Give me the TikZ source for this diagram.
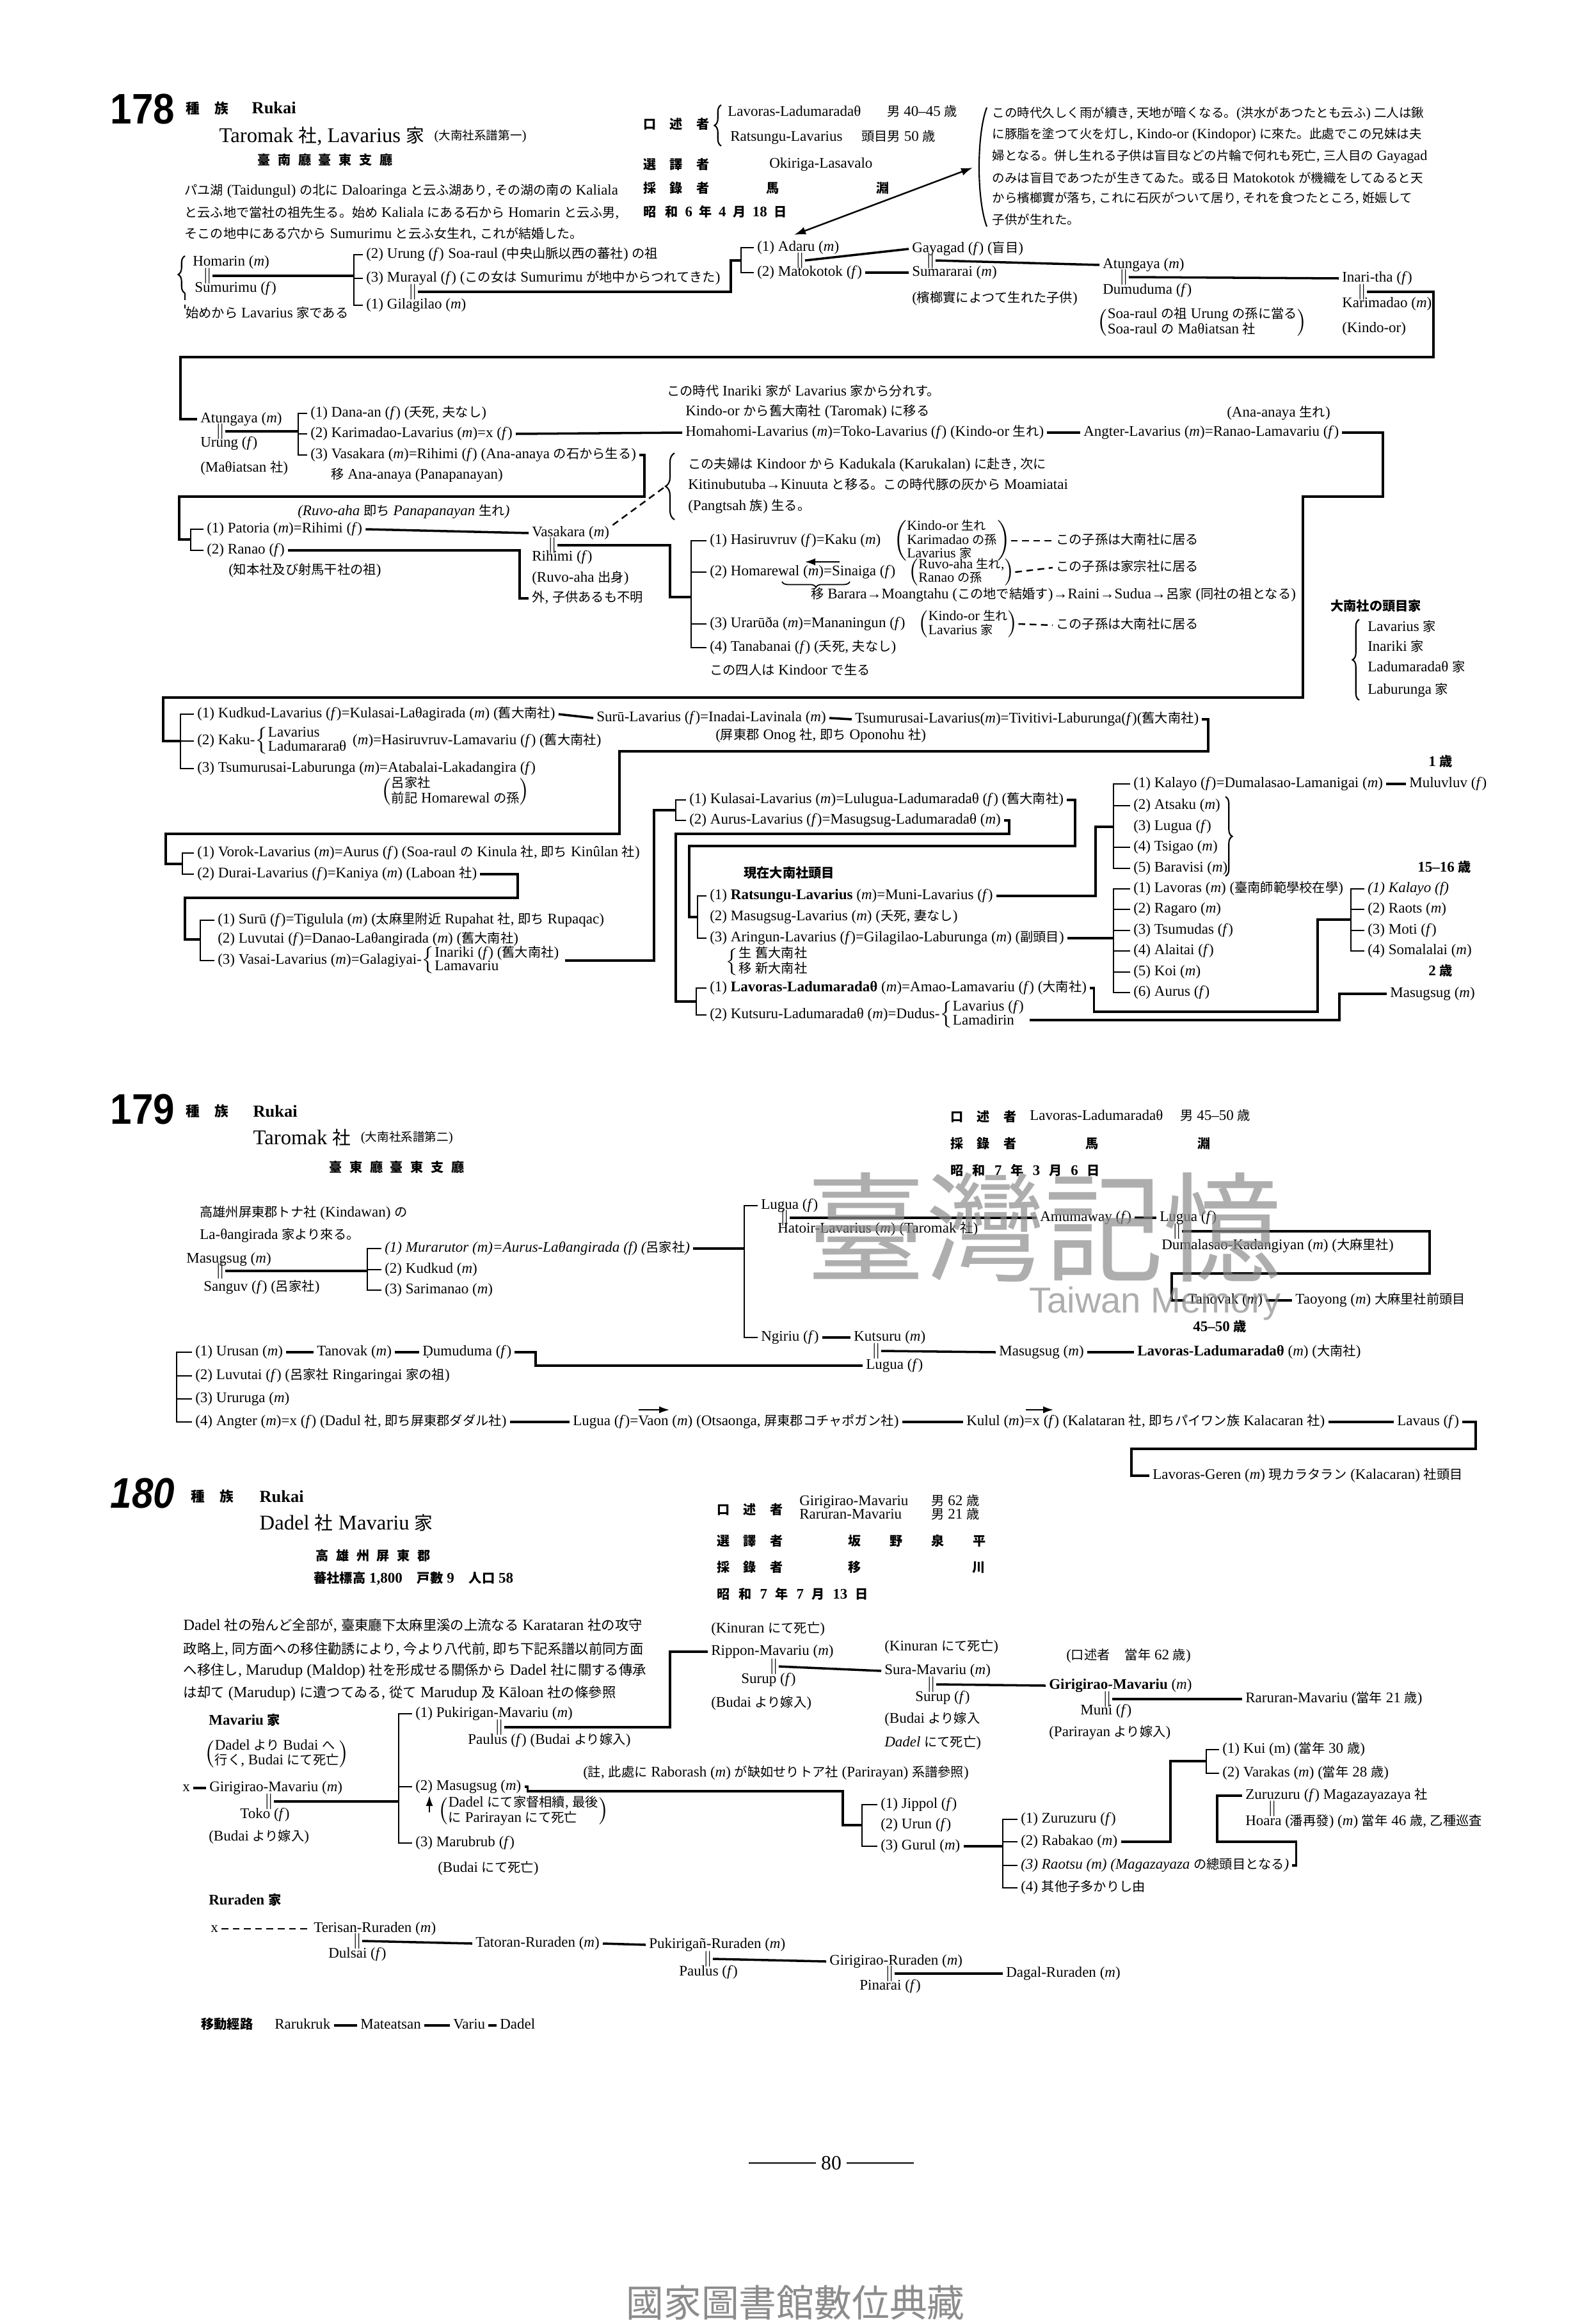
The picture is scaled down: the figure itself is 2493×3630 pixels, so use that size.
\documentclass[tikz,border=0pt]{standalone}
\usepackage{fontspec}
\setmainfont{Liberation Serif}
\setsansfont{Liberation Sans}
\newfontfamily\cjkfont[Scale=0.88]{Noto Sans CJK JP}
\usetikzlibrary{arrows.meta,positioning,decorations.pathreplacing}

% kana and kanji are set in the CJK face
\XeTeXinterchartokenstate=1
\newXeTeXintercharclass\JPclass
\makeatletter
\newcommand\setjprange[2]{\count@=#1\relax
  \loop\XeTeXcharclass\count@=\JPclass
  \ifnum\count@<#2\relax\advance\count@\@ne\repeat}
\makeatother
\setjprange{"3000}{"30FF}
\setjprange{"3400}{"4DBF}
\setjprange{"4E00}{"9FFF}
\setjprange{"F900}{"FAFF}
\setjprange{"FF00}{"FFEF}
\newcommand\jpon{\cjkfont}
\newcommand\jpoff{\rmfamily}
\XeTeXinterchartoks 0 \JPclass = {\jpon}
\XeTeXinterchartoks 4095 \JPclass = {\jpon}
\XeTeXinterchartoks \JPclass 0 = {\jpoff}
\XeTeXinterchartoks \JPclass 4095 = {\jpoff}

\newcommand\treefont{\fontsize{6.55}{8}\selectfont}
\newcommand\parafont{\fontsize{6.5}{8}\selectfont}
\newcommand\mM{(\textit{m})}
\newcommand\fF{(\textit{f})}
\newcommand\stk[1]{\begin{tabular}{@{}l@{}}#1\end{tabular}}
\newcommand\lsp{\hspace{6pt}}
\newcommand\rsp{\hspace{3.3pt}}
\renewcommand\arraystretch{0.72}

\tikzset{
  nm/.style={font=\treefont, anchor=west, inner sep=0pt, outer xsep=1.5pt,
             text height=5pt, text depth=1.7pt},
  nmb/.style={nm, font=\treefont\bfseries},
  blk/.style={font=\treefont, anchor=west, inner sep=0pt},
  blks/.style={blk, font=\fontsize{6.2}{7.6}\selectfont},
  par/.style={font=\parafont, anchor=west, inner sep=0pt},
  parr/.style={font=\fontsize{6.3}{8}\selectfont, anchor=west, inner sep=0pt},
  lab/.style={font=\fontsize{6.5}{8}\selectfont\bfseries, anchor=west, inner sep=0pt},
  num/.style={font=\fontsize{19}{21}\selectfont\sffamily\bfseries, anchor=west,
              inner sep=0pt, xscale=0.9, transform shape},
  zk/.style={font=\fontsize{7}{8}\selectfont\bfseries, anchor=west, inner sep=0pt},
  hdr/.style={font=\fontsize{7.5}{9}\selectfont\bfseries, anchor=west, inner sep=0pt},
  ttl/.style={font=\fontsize{9.3}{11}\selectfont, anchor=west, inner sep=0pt},
  sml/.style={font=\fontsize{6}{7}\selectfont, anchor=west, inner sep=0pt},
  reg/.style={font=\fontsize{6.5}{8}\selectfont\bfseries, anchor=west, inner sep=0pt},
  eqs/.style={font=\treefont, inner sep=0pt},
  ln/.style={line width=1pt},
  brk/.style={line width=0.8pt},
  dsh/.style={line width=0.7pt, densely dashed},
  brc/.style={line width=0.6pt, decorate, decoration={brace, amplitude=3pt}},
  tip/.style={-{Latex[length=1.6mm,width=1.1mm]}, line width=0.5pt},
}

\begin{document}
\begin{tikzpicture}[x=0.01cm, y=-0.01cm]
  \fill[white] (0,0) rectangle (2493,3630);
  \useasboundingbox (0,0) rectangle (2493,3630);

  % ---------------- 178 ----------------
  \node[num] (n178) at (172,171) {178};
  \node[zk] (zk1) at (290,169) {種\hspace{6.5pt}族};
  \node[hdr] (ruk1) at (393,169) {Rukai};
  \node[ttl] (t178) at (342,213) {Taromak 社, Lavarius 家};
  \node[sml, right=4pt of t178] (t178b) {(大南社系譜第一)};
  \node[reg] (r178) at (402,250) {臺\rsp 南\rsp 廳\rsp 臺\rsp 東\rsp 支\rsp 廳};

  \node[par] (p1a) at (288,299) {パユ湖 (Taidungul) の北に Daloaringa と云ふ湖あり, その湖の南の Kaliala};
  \node[par] (p1b) at (288,333) {と云ふ地で當社の祖先生る。始め Kaliala にある石から Homarin と云ふ男,};
  \node[par] (p1c) at (288,366) {そこの地中にある穴から Sumurimu と云ふ女生れ, これが結婚した。};

  \node[lab] (a1) at (1005,194) {口\lsp 述\lsp 者};
  \draw[brc] (1127,228) -- (1127,164);
  \node[nm] (a1a) at (1132,176) {Lavoras-Ladumaradaθ};
  \node[nm] (a1b) at (1381,176) {男 40–45 歳};
  \node[nm] (a1c) at (1136,215) {Ratsungu-Lavarius};
  \node[nm] (a1d) at (1341,215) {頭目男 50 歳};
  \node[lab] (a2) at (1005,257) {選\lsp 譯\lsp 者};
  \node[nm] (a2a) at (1197,257) {Okiriga-Lasavalo};
  \node[lab] (a3) at (1005,294) {採\lsp 錄\lsp 者};
  \node[lab] (a3a) at (1197,294) {馬};
  \node[lab] (a3b) at (1369,294) {淵};
  \node[lab] (a4) at (1005,331) {昭\hspace{4pt}和\hspace{3pt}6\hspace{3pt}年\hspace{3pt}4\hspace{3pt}月\hspace{3pt}18\hspace{3pt}日};

  \draw[line width=0.6pt] (1542,168) .. controls (1526,210) and (1526,312) .. (1542,354);
  \node[parr] (rt1) at (1550,178) {この時代久しく雨が續き, 天地が暗くなる。(洪水があつたとも云ふ) 二人は鍬};
  \node[parr] (rt2) at (1550,211) {に豚脂を塗つて火を灯し, Kindo-or (Kindopor) に來た。此處でこの兄妹は夫};
  \node[parr] (rt3) at (1550,245) {婦となる。併し生れる子供は盲目などの片輪で何れも死亡, 三人目の Gayagad};
  \node[parr] (rt4) at (1550,278) {のみは盲目であつたが生きてゐた。或る日 Matokotok が機織をしてゐると天};
  \node[parr] (rt5) at (1550,310) {から檳榔實が落ち, これに石灰がついて居り, それを食つたところ, 姙娠して};
  \node[parr] (rt6) at (1550,343) {子供が生れた。};
  \coordinate (arA) at (1241,367);
  \coordinate (arB) at (1520,262);
  \draw[{Latex[length=1.8mm,width=1.2mm]}-{Latex[length=1.8mm,width=1.2mm]}, line width=0.7pt] (arA) -- (arB);

  % first generations
  \node[nm] (hom) at (296,410) {Homarin \mM};
  \node[eqs] (e1) at (324,431) {$\|$};
  \node[nm] (sum) at (299,451) {Sumurimu \fF};
  \draw[brc] (289,458) -- (289,400);
  \draw[dsh] (289,458) -- (289,482);
  \node[nm] (haj) at (285,491) {始めから Lavarius 家である};
  \coordinate (sp1) at (553,431);
  \draw[ln] (e1.east) -- (sp1);
  \node[nm] (ur2) at (567,398) {(2) Urung \fF};
  \node[nm] (ur2b) at (695,398) {Soa-raul (中央山脈以西の蕃社) の祖};
  \node[nm] (mur) at (567,435) {(3) Murayal \fF{} (この女は Sumurimu が地中からつれてきた)};
  \node[nm] (gil) at (567,477) {(1) Gilagilao \mM};
  \draw[brk] (ur2.west) -| (sp1) |- (gil.west);
  \draw[brk] (mur.west) -- (mur.west -| sp1);
  \node[eqs] (e2) at (645,456) {$\|$};
  \coordinate (sp2) at (1158,407);
  \node[nm] (ada) at (1178,387) {(1) Adaru \mM};
  \node[nm] (mat) at (1178,426) {(2) Matokotok \fF};
  \draw[ln] (e2.east) -| (1142,407) -- (sp2);
  \draw[brk] (ada.west) -| (sp2) |- (mat.west);
  \node[eqs] (e3) at (1250,407) {$\|$};
  \node[nm] (gay) at (1420,389) {Gayagad \fF{} (盲目)};
  \node[nm] (smr) at (1420,426) {Sumararai \mM};
  \draw[ln] (e3.east) -- (gay.west);
  \draw[ln] (mat.east) -- (smr.west);
  \node[nm] (bin) at (1420,467) {(檳榔實によつて生れた子供)};
  \node[eqs] (e4) at (1454,407) {$\|$};
  \node[nm] (atu1) at (1718,414) {Atungaya \mM};
  \draw[ln] (e4.east) -- (atu1.west);
  \node[eqs] (e5) at (1756,433) {$\|$};
  \node[nm] (dum1) at (1718,454) {Dumuduma \fF};
  \node[blk] (soa) at (1714,504) {$\left(\stk{Soa-raul の祖 Urung の孫に當る\hspace{16pt}\\Soa-raul の Maθiatsan 社}\right)$};
  \node[nm] (ina) at (2092,435) {Inari-tha \fF};
  \draw[ln] (e5.east) -- (ina.west);
  \node[eqs] (e6) at (2128,456) {$\|$};
  \node[nm] (kar1) at (2092,475) {Karimadao \mM};
  \node[nm] (kin1) at (2092,514) {(Kindo-or)};
  \node[nm] (atu2) at (308,655) {Atungaya \mM};
  \draw[ln] (e6.east) -| (2240,558) -| (282,655) -- (atu2.west);

  % Atungaya = Urung
  \node[eqs] (e7) at (344,674) {$\|$};
  \node[nm] (uru2) at (308,693) {Urung \fF};
  \node[nm] (mts) at (308,732) {(Maθiatsan 社)};
  \coordinate (sp3) at (466,674);
  \draw[ln] (e7.east) -- (sp3);
  \node[nm] (d1) at (480,646) {(1) Dana-an \fF{} (夭死, 夫なし)};
  \node[nm] (d2) at (480,678) {(2) Karimadao-Lavarius \mM=x \fF};
  \node[nm] (d3) at (480,711) {(3) Vasakara \mM=Rihimi \fF{} (Ana-anaya の石から生る)};
  \draw[brk] (d1.west) -| (sp3) |- (d3.west);
  \draw[brk] (d2.west) -- (d2.west -| sp3);
  \node[nm] (d3b) at (512,743) {移 Ana-anaya (Panapanayan)};
  \node[nm] (jidai) at (1037,613) {この時代 Inariki 家が Lavarius 家から分れす。};
  \node[nm] (kindo) at (1066,644) {Kindo-or から舊大南社 (Taromak) に移る};
  \node[nm] (hmh) at (1066,676) {Homahomi-Lavarius \mM=Toko-Lavarius \fF{} (Kindo-or 生れ)};
  \draw[ln] (d2.east) -- (hmh.west);
  \node[nm] (ang) at (1688,676) {Angter-Lavarius \mM=Ranao-Lamavariu \fF};
  \node[nm] (anab) at (1912,646) {(Ana-anaya 生れ)};
  \draw[ln] (hmh.east) -- (ang.west);

  \coordinate (sp4) at (298,843);
  \draw[ln] (d3.east) -| (1007,776) -| (280,843) -- (sp4);
  \node[nm] (pat) at (318,827) {(1) Patoria \mM=Rihimi \fF};
  \node[nm] (ran) at (318,860) {(2) Ranao \fF};
  \draw[brk] (pat.west) -| (sp4) |- (ran.west);
  \node[nm] (chi) at (352,892) {(知本社及び射馬干社の祖)};
  \node[nm, font=\treefont\itshape] (ruvo) at (460,800) {(Ruvo-aha 即ち Panapanayan 生れ)};
  \node[nm] (vas) at (826,833) {Vasakara \mM};
  \draw[ln] (pat.east) -- (vas.west);
  \node[eqs] (e8) at (863,852) {$\|$};
  \node[nm] (rih) at (826,871) {Rihimi \fF};
  \node[nm] (ruv2) at (826,904) {(Ruvo-aha 出身)};
  \node[nm] (hoka) at (826,935) {外, 子供あるも不明};
  \draw[ln] (ran.east) -| (812,935) -- (hoka.west);

  \draw[brc, decoration={brace, amplitude=4pt}] (1054,812) -- (1054,708);
  \coordinate (brtip) at (1040,760);
  \node[nm] (fu1) at (1070,727) {この夫婦は Kindoor から Kadukala (Karukalan) に赴き, 次に};
  \node[nm] (fu2) at (1070,759) {Kitinubutuba→Kinuuta と移る。この時代豚の灰から Moamiatai};
  \node[nm] (fu3) at (1070,792) {(Pangtsah 族) 生る。};
  \draw[dsh] (vas.north east) -- (brtip);

  \coordinate (sp5) at (1080,933);
  \draw[ln] (e8.east) -| (1047,933) -- (sp5);
  \node[nm] (h1) at (1104,845) {(1) Hasiruvruv \fF=Kaku \mM};
  \node[nm] (h2) at (1104,894) {(2) Homarewal \mM=Sinaiga \fF};
  \node[nm] (h3) at (1104,975) {(3) Urarūða \mM=Mananingun \fF};
  \node[nm] (h4) at (1104,1012) {(4) Tanabanai \fF{} (夭死, 夫なし)};
  \draw[brk] (h1.west) -| (sp5) |- (h4.west);
  \draw[brk] (h2.west) -- (h2.west -| sp5);
  \draw[brk] (h3.west) -- (h3.west -| sp5);
  \node[blks, right=4pt of h1] (h1p) {$\left(\stk{Kindo-or 生れ\\Karimadao の孫\\Lavarius 家}\right)$};
  \node[nm] (h1n) at (1645,845) {この子孫は大南社に居る};
  \draw[dsh] (h1p.east) -- (h1n.west);
  \node[blks, right=4pt of h2] (h2p) {$\left(\stk{Ruvo-aha 生れ,\\Ranao の孫}\right)$};
  \node[nm] (h2n) at (1645,887) {この子孫は家宗社に居る};
  \draw[dsh] (h2p.east) -- (h2n.west);
  \draw[tip] (1312,878) -- (1258,878);
  \draw[line width=0.5pt, decorate, decoration={brace, mirror, amplitude=2.5pt}] (1222,909) -- (1328,909);
  \node[nm] (h2m) at (1262,930) {移 Barara→Moangtahu (この地で結婚す)→Raini→Sudua→呂家 (同社の祖となる)};
  \node[blks, right=4pt of h3] (h3p) {$\left(\stk{Kindo-or 生れ\\Lavarius 家}\right)$};
  \node[nm] (h3n) at (1645,977) {この子孫は大南社に居る};
  \draw[dsh] (h3p.east) -- (h3n.west);
  \node[nm] (yon) at (1104,1049) {この四人は Kindoor で生る};

  \node[nmb] (tmk) at (2074,949) {大南社の頭目家};
  \draw[brc] (2124,1094) -- (2124,968);
  \node[nm] (tm1) at (2132,981) {Lavarius 家};
  \node[nm] (tm2) at (2132,1012) {Inariki 家};
  \node[nm] (tm3) at (2132,1044) {Ladumaradaθ 家};
  \node[nm] (tm4) at (2132,1079) {Laburunga 家};

  \coordinate (sp6) at (282,1158);
  \draw[ln] (ang.east) -| (2161,776) -| (2036,1090) -| (255,1158) -- (sp6);

  % Kudkud, Kaku, Tsumurusai
  \node[nm] (k1) at (303,1116) {(1) Kudkud-Lavarius \fF=Kulasai-Laθagirada \mM{} (舊大南社)};
  \node[nm] (k2) at (303,1158) {(2) Kaku-$\left\{\stk{Lavarius\\Ladumararaθ}\right.$ \mM=Hasiruvruv-Lamavariu \fF{} (舊大南社)};
  \node[nm] (k3) at (303,1201) {(3) Tsumurusai-Laburunga \mM=Atabalai-Lakadangira \fF};
  \node[blk] (k3p) at (595,1237) {$\left(\stk{呂家社\\前記 Homarewal の孫}\right)$};
  \draw[brk] (k1.west) -| (sp6) |- (k3.west);
  \draw[brk] (k2.west) -- (k2.west -| sp6);
  \node[nm] (sur) at (927,1122) {Surū-Lavarius \fF=Inadai-Lavinala \mM};
  \draw[ln] (k1.east) -- (sur.west);
  \node[nm] (tsu) at (1331,1124) {Tsumurusai-Lavarius\mM=Tivitivi-Laburunga\fF(舊大南社)};
  \draw[ln] (sur.east) -- (tsu.west);
  \node[nm] (onog) at (1113,1150) {(屏東郡 Onog 社, 即ち Oponohu 社)};

  \coordinate (sp7) at (285,1350);
  \draw[ln] (tsu.east) -| (1888,1174) -| (968,1303) -| (259,1350) -- (sp7);
  \node[nm] (v1) at (303,1333) {(1) Vorok-Lavarius \mM=Aurus \fF{} (Soa-raul の Kinula 社, 即ち Kinûlan 社)};
  \node[nm] (v2) at (303,1366) {(2) Durai-Lavarius \fF=Kaniya \mM{} (Laboan 社)};
  \draw[brk] (v1.west) -| (sp7) |- (v2.west);

  \coordinate (sp8) at (313,1468);
  \draw[ln] (v2.east) -| (809,1403) -| (289,1468) -- (sp8);
  \node[nm] (w1) at (335,1438) {(1) Surū \fF=Tigulula \mM{} (太麻里附近 Rupahat 社, 即ち Rupaqac)};
  \node[nm] (w2) at (335,1468) {(2) Luvutai \fF=Danao-Laθangirada \mM{} (舊大南社)};
  \node[nm] (w3) at (335,1501) {(3) Vasai-Lavarius \mM=Galagiyai-$\left\{\stk{Inariki \fF{} (舊大南社)\\Lamavariu}\right.$};
  \draw[brk] (w1.west) -| (sp8) |- (w3.west);

  \coordinate (sp9) at (1056,1266);
  \draw[ln] (w3.east) -| (1022,1266) -- (sp9);
  \node[nm] (x1) at (1072,1250) {(1) Kulasai-Lavarius \mM=Lulugua-Ladumaradaθ \fF{} (舊大南社)};
  \node[nm] (x2) at (1072,1282) {(2) Aurus-Lavarius \fF=Masugsug-Ladumaradaθ \mM};
  \draw[brk] (x1.west) -| (sp9) |- (x2.west);

  \coordinate (sp10) at (1090,1433);
  \coordinate (sp11) at (1088,1565);
  \draw[ln] (x1.east) -| (1680,1322) -| (1077,1433) -- (sp10);
  \draw[ln] (x2.east) -| (1577,1303) -| (1056,1565) -- (sp11);
  \node[nmb] (gz) at (1157,1366) {現在大南社頭目};
  \node[nm] (y1) at (1104,1400) {(1) \textbf{Ratsungu-Lavarius} \mM=Muni-Lavarius \fF};
  \node[nm] (y2) at (1104,1433) {(2) Masugsug-Lavarius \mM{} (夭死, 妻なし)};
  \node[nm] (y3) at (1104,1466) {(3) Aringun-Lavarius \fF=Gilagilao-Laburunga \mM{} (副頭目)};
  \draw[brk] (y1.west) -| (sp10) |- (y3.west);
  \node[blk] (y3b) at (1133,1503) {$\left\{\stk{生 舊大南社\\移 新大南社}\right.$};
  \node[nm] (z1) at (1104,1544) {(1) \textbf{Lavoras-Ladumaradaθ} \mM=Amao-Lamavariu \fF{} (大南社)};
  \node[nm] (z2) at (1104,1586) {(2) Kutsuru-Ladumaradaθ \mM=Dudus-$\left\{\stk{Lavarius \fF\\Lamadirin}\right.$};
  \draw[brk] (z1.west) -| (sp11) |- (z2.west);

  % children of Ratsungu
  \coordinate (sp12) at (1740,1292);
  \draw[ln] (y1.east) -| (1712,1292) -- (sp12);
  \node[nmb] (age1) at (2227,1192) {1 歳};
  \node[nm] (r1) at (1766,1225) {(1) Kalayo \fF=Dumalasao-Lamanigai \mM};
  \node[nm] (r1b) at (2197,1225) {Muluvluv \fF};
  \draw[ln] (r1.east) -- (r1b.west);
  \node[nm] (r2) at (1766,1259) {(2) Atsaku \mM};
  \node[nm] (r3) at (1766,1292) {(3) Lugua \fF};
  \node[nm] (r4) at (1766,1324) {(4) Tsigao \mM};
  \node[nm] (r5) at (1766,1357) {(5) Baravisi \mM};
  \draw[brk] (r1.west) -| (sp12) |- (r5.west);
  \draw[brk] (r2.west) -- (r2.west -| sp12);
  \draw[brk] (r4.west) -- (r4.west -| sp12);
  \draw[brc] (1915,1245) -- (1915,1369);

  % children of Aringun
  \coordinate (sp13) at (1740,1466);
  \draw[ln] (y3.east) -- (sp13);
  \node[nm] (s1) at (1766,1389) {(1) Lavoras \mM{} (臺南師範學校在學)};
  \node[nm] (s2) at (1766,1421) {(2) Ragaro \mM};
  \node[nm] (s3) at (1766,1454) {(3) Tsumudas \fF};
  \node[nm] (s4) at (1766,1486) {(4) Alaitai \fF};
  \node[nm] (s5) at (1766,1519) {(5) Koi \mM};
  \node[nm] (s6) at (1766,1551) {(6) Aurus \fF};
  \draw[brk] (s1.west) -| (sp13) |- (s6.west);
  \draw[brk] (s2.west) -- (s2.west -| sp13);
  \draw[brk] (s3.west) -- (s3.west -| sp13);
  \draw[brk] (s4.west) -- (s4.west -| sp13);
  \draw[brk] (s5.west) -- (s5.west -| sp13);

  % children of Lavoras-Ladumaradath
  \node[nmb] (age2) at (2210,1357) {15–16 歳};
  \coordinate (sp14) at (2111,1437);
  \node[nm, font=\treefont\itshape] (t1) at (2132,1389) {(1) Kalayo (f)};
  \node[nm] (t2) at (2132,1421) {(2) Raots \mM};
  \node[nm] (t3) at (2132,1454) {(3) Moti \fF};
  \node[nm] (t4) at (2132,1486) {(4) Somalalai \mM};
  \draw[brk] (t1.west) -| (sp14) |- (t4.west);
  \draw[brk] (t2.west) -- (t2.west -| sp14);
  \draw[brk] (t3.west) -- (t3.west -| sp14);
  \draw[ln] (z1.east) -- ++(6,0) |- (2059,1581) |- (sp14);
  \node[nmb] (age3) at (2227,1519) {2 歳};
  \node[nm] (msg) at (2167,1553) {Masugsug \mM};
  \draw[ln] (z2.east) ++(0,8) -| (2093,1553) -- (msg.west);

  % ---------------- 179 ----------------
  \node[num] (n179) at (172,1733) {179};
  \node[zk] (zk2) at (290,1736) {種\hspace{6.5pt}族};
  \node[hdr] (ruk2) at (395,1736) {Rukai};
  \node[ttl] (t179) at (395,1778) {Taromak 社};
  \node[sml, right=4pt of t179] (t179b) {(大南社系譜第二)};
  \node[reg] (r179) at (514,1824) {臺\rsp 東\rsp 廳\rsp 臺\rsp 東\rsp 支\rsp 廳};

  \node[lab] (b1) at (1485,1745) {口\lsp 述\lsp 者};
  \node[nm] (b1a) at (1604,1745) {Lavoras-Ladumaradaθ};
  \node[nm] (b1b) at (1839,1745) {男 45–50 歳};
  \node[lab] (b2) at (1485,1787) {採\lsp 錄\lsp 者};
  \node[lab] (b2a) at (1696,1787) {馬};
  \node[lab] (b2b) at (1871,1787) {淵};
  \node[lab] (b3) at (1485,1829) {昭\hspace{4pt}和\hspace{4pt}7\hspace{4pt}年\hspace{4pt}3\hspace{4pt}月\hspace{4pt}6\hspace{4pt}日};

  \node[nm] (ton1) at (307,1896) {高雄州屏東郡トナ社 (Kindawan) の};
  \node[nm] (ton2) at (307,1931) {La-θangirada 家より來る。};
  \node[nm] (msg2) at (286,1968) {Masugsug \mM};
  \node[eqs] (e9) at (344,1986) {$\|$};
  \node[nm] (sng) at (313,2012) {Sanguv \fF{} (呂家社)};
  \coordinate (sp15) at (574,1986);
  \draw[ln] (e9.east) -- (sp15);
  \node[nm, font=\treefont\itshape] (m1) at (596,1951) {(1) Murarutor (m)=Aurus-Laθangirada (f) (呂家社)};
  \node[nm] (m2) at (596,1984) {(2) Kudkud \mM};
  \node[nm] (m3) at (596,2016) {(3) Sarimanao \mM};
  \draw[brk] (m1.west) -| (sp15) |- (m3.west);
  \draw[brk] (m2.west) -- (m2.west -| sp15);

  \coordinate (sp16) at (1163,1951);
  \draw[ln] (m1.east) -- (sp16);
  \node[nm] (lg1) at (1184,1884) {Lugua \fF};
  \node[nm] (ng1) at (1184,2090) {Ngiriu \fF};
  \draw[brk] (lg1.west) -| (sp16) |- (ng1.west);
  \node[eqs] (e10) at (1226,1903) {$\|$};
  \node[nm] (hat) at (1210,1921) {Hatoir-Lavarius \mM{} (Taromak 社)};
  \node[nm] (amu) at (1620,1903) {Amumaway \fF};
  \draw[ln] (e10.east) -- (amu.west);
  \node[nm] (lg2) at (1807,1903) {Lugua \fF};
  \draw[ln] (amu.east) -- (lg2.west);
  \node[eqs] (e11) at (1839,1924) {$\|$};
  \node[nm] (dmk) at (1810,1947) {Dumalasao-Kadangiyan \mM{} (大麻里社)};
  \node[nm] (tnv) at (1851,2032) {Tanovak \mM};
  \draw[ln] (e11.east) -| (2234,1990) -| (1831,2032) -- (tnv.west);
  \node[nm] (tyg) at (2019,2032) {Taoyong \mM{} 大麻里社前頭目};
  \draw[ln] (tnv.east) -- (tyg.west);
  \node[nmb] (age4) at (1859,2075) {45–50 歳};
  \node[nm] (kts) at (1329,2090) {Kutsuru \mM};
  \draw[ln] (ng1.east) -- (kts.west);
  \node[eqs] (e12) at (1369,2111) {$\|$};
  \node[nm] (lg3) at (1348,2134) {Lugua \fF};
  \node[nm] (msg3) at (1556,2113) {Masugsug \mM};
  \draw[ln] (e12.east) -- (msg3.west);
  \node[nm] (lav3) at (1772,2113) {\textbf{Lavoras-Ladumaradaθ} \mM{} (大南社)};
  \draw[ln] (msg3.east) -- (lav3.west);

  \node[nm] (u1) at (300,2113) {(1) Urusan \mM};
  \node[nm] (u1b) at (490,2113) {Tanovak \mM};
  \node[nm] (u1c) at (655,2113) {\d{D}umuduma \fF};
  \draw[ln] (u1.east) -- (u1b.west);
  \draw[ln] (u1b.east) -- (u1c.west);
  \draw[ln] (u1c.east) -| (837,2134) -- (lg3.west);
  \node[nm] (u2) at (300,2150) {(2) Luvutai \fF{} (呂家社 Ringaringai 家の祖)};
  \node[nm] (u3) at (300,2186) {(3) Ururuga \mM};
  \node[nm] (u4) at (300,2222) {(4) Angter \mM=x \fF{} (Dadul 社, 即ち屏東郡ダダル社)};
  \draw[brk] (u1.west) -- ++(-24,0) |- (u4.west);
  \draw[brk] (u2.west) -- ++(-24,0);
  \draw[brk] (u3.west) -- ++(-24,0);
  \node[nm] (u4b) at (890,2222) {Lugua \fF=Vaon \mM{} (Otsaonga, 屏東郡コチャポガン社)};
  \node[nm] (u4c) at (1505,2222) {Kulul \mM=x \fF{} (Kalataran 社, 即ちパイワン族 Kalacaran 社)};
  \node[nm] (u4d) at (2178,2222) {Lavaus \fF};
  \draw[ln] (u4.east) -- (u4b.west);
  \draw[ln] (u4b.east) -- (u4c.west);
  \draw[ln] (u4c.east) -- (u4d.west);
  \draw[tip] (998,2203) -- (1046,2203);
  \draw[tip] (1603,2203) -- (1646,2203);
  \node[nm] (gere) at (1796,2306) {Lavoras-Geren \mM{} 現カラタラン (Kalacaran) 社頭目};
  \draw[ln] (u4d.east) -| (2306,2264) -| (1768,2306) -- (gere.west);

  % ---------------- 180 ----------------
  \node[num, font=\fontsize{19}{21}\selectfont\sffamily\bfseries\itshape] (n180) at (172,2333) {180};
  \node[zk] (zk3) at (298,2338) {種\hspace{6.5pt}族};
  \node[hdr] (ruk3) at (405,2338) {Rukai};
  \node[ttl] (t180) at (405,2380) {Dadel 社 Mavariu 家};
  \node[reg] (r180) at (493,2431) {高\rsp 雄\rsp 州\rsp 屏\rsp 東\rsp 郡};
  \node[nmb] (alt) at (485,2468) {蕃社標高 1,800\quad 戸數 9\quad 人口 58};

  \node[lab] (c1) at (1120,2359) {口\lsp 述\lsp 者};
  \node[nm] (c1a) at (1244,2347) {Girigirao-Mavariu};
  \node[nm] (c1b) at (1244,2368) {Raruran-Mavariu};
  \node[nm] (c1c) at (1450,2347) {男 62 歳};
  \node[nm] (c1d) at (1450,2368) {男 21 歳};
  \node[lab] (c2) at (1120,2408) {選\lsp 譯\lsp 者};
  \node[lab] (c2a) at (1325,2408) {坂\hspace{12.7pt}野\hspace{12.7pt}泉\hspace{12.7pt}平};
  \node[lab] (c3) at (1120,2449) {採\lsp 錄\lsp 者};
  \node[lab] (c3a) at (1325,2449) {移};
  \node[lab] (c3b) at (1519,2449) {川};
  \node[lab] (c4) at (1120,2491) {昭\hspace{4pt}和\hspace{3.6pt}7\hspace{3.6pt}年\hspace{3.6pt}7\hspace{3.6pt}月\hspace{3.6pt}13\hspace{3.6pt}日};

  \node[par, font=\fontsize{6.9}{8}\selectfont] (q1) at (286,2540) {Dadel 社の殆んど全部が, 臺東廳下太麻里溪の上流なる Karataran 社の攻守};
  \node[par, font=\fontsize{6.9}{8}\selectfont] (q2) at (286,2577) {政略上, 同方面への移住勸誘により, 今より八代前, 即ち下記系譜以前同方面};
  \node[par, font=\fontsize{6.9}{8}\selectfont] (q3) at (286,2611) {へ移住し, Marudup (Maldop) 社を形成せる關係から Dadel 社に關する傳承};
  \node[par, font=\fontsize{6.9}{8}\selectfont] (q4) at (286,2646) {は却て (Marudup) に遺つてゐる, 從て Marudup 及 Kāloan 社の條參照};

  \node[nmb] (mvk) at (321,2690) {Mavariu 家};
  \node[blk] (ddb) at (319,2741) {$\left(\stk{Dadel より Budai へ\\行く, Budai にて死亡}\right)$};
  \node[nm] (xg) at (280,2794) {x};
  \node[nm] (gg1) at (322,2794) {Girigirao-Mavariu \mM};
  \draw[ln] (xg.east) -- (gg1.west);
  \node[eqs] (e13) at (420,2815) {$\|$};
  \node[nm] (tok) at (370,2836) {Toko \fF};
  \node[nm] (tokb) at (321,2871) {(Budai より嫁入)};
  \coordinate (sp18) at (623,2815);
  \draw[ln] (e13.east) -- (sp18);
  \node[nm] (pk1) at (644,2678) {(1) Pukirigan-Mavariu \mM};
  \node[nm] (pk2) at (644,2792) {(2) Masugsug \mM};
  \node[nm] (pk3) at (644,2880) {(3) Marubrub \fF};
  \draw[brk] (pk1.west) -| (sp18) |- (pk3.west);
  \draw[brk] (pk2.west) -- (pk2.west -| sp18);
  \node[eqs] (e14) at (780,2699) {$\|$};
  \node[nm] (pau1) at (726,2720) {Paulus \fF{} (Budai より嫁入)};

  \node[nm] (ripk) at (1106,2546) {(Kinuran にて死亡)};
  \node[nm] (rip) at (1106,2581) {Rippon-Mavariu \mM};
  \draw[ln] (e14.east) -| (1047,2581) -- (rip.west);
  \node[eqs] (e15) at (1209,2604) {$\|$};
  \node[nm] (sru1) at (1153,2625) {Surup \fF};
  \node[nm] (sru1b) at (1106,2662) {(Budai より嫁入)};
  \node[nm] (srak) at (1377,2574) {(Kinuran にて死亡)};
  \node[nm] (sra) at (1377,2611) {Sura-Mavariu \mM};
  \draw[ln] (e15.east) -- (sra.west);
  \node[eqs] (e16) at (1455,2632) {$\|$};
  \node[nm] (sru2) at (1425,2653) {Surup \fF};
  \node[nm] (sru2b) at (1377,2687) {(Budai より嫁入};
  \node[nm] (sru2c) at (1377,2724) {\textit{Dadel} にて死亡)};
  \node[nm] (kj) at (1661,2588) {(口述者\quad 當年 62 歳)};
  \node[nm] (gg2) at (1634,2634) {\textbf{Girigirao-Mavariu} \mM};
  \draw[ln] (e16.east) -- (gg2.west);
  \node[eqs] (e17) at (1730,2655) {$\|$};
  \node[nm] (mun) at (1683,2674) {Muni \fF};
  \node[nm] (munb) at (1634,2708) {(Parirayan より嫁入)};
  \node[nm] (rar) at (1941,2655) {Raruran-Mavariu (當年 21 歳)};
  \draw[ln] (e17.east) -- (rar.west);

  \node[blk] (pk2n) at (684,2830) {$\left(\stk{Dadel にて家督相續, 最後\\に Parirayan にて死亡}\right)$};
  \draw[tip] (671,2832) -- (671,2806);
  \node[nm] (pk3n) at (679,2920) {(Budai にて死亡)};
  \node[nm] (chu) at (906,2771) {(註, 此處に Raborash \mM{} が缺如せりトア社 (Parirayan) 系譜參照)};
  \coordinate (sp19) at (1347,2852);
  \draw[ln] (pk2.east) -- ++(5,0) |- (1317,2799) |- (sp19);
  \node[nm] (jp1) at (1371,2820) {(1) Jippol \fF};
  \node[nm] (jp2) at (1371,2852) {(2) Urun \fF};
  \node[nm] (jp3) at (1371,2885) {(3) Gurul \mM};
  \draw[brk] (jp1.west) -| (sp19) |- (jp3.west);
  \coordinate (sp20) at (1567,2885);
  \draw[ln] (jp3.east) -- (sp20);
  \node[nm] (zz1) at (1590,2843) {(1) Zuruzuru \fF};
  \node[nm] (zz2) at (1590,2878) {(2) Rabakao \mM};
  \node[nm, font=\treefont\itshape] (zz3) at (1590,2915) {(3) Raotsu (m) (Magazayaza の總頭目となる)};
  \node[nm] (zz4) at (1590,2950) {(4) 其他子多かりし由};
  \draw[brk] (zz1.west) -| (sp20) |- (zz4.west);
  \draw[brk] (zz2.west) -- (zz2.west -| sp20);
  \draw[brk] (zz3.west) -- (zz3.west -| sp20);
  \coordinate (sp21) at (1885,2752);
  \draw[ln] (zz2.east) -| (1829,2752) -- (sp21);
  \node[nm] (kui) at (1905,2734) {(1) Kui (m) (當年 30 歳)};
  \node[nm] (var) at (1905,2771) {(2) Varakas \mM{} (當年 28 歳)};
  \draw[brk] (kui.west) -| (sp21) |- (var.west);
  \node[nm] (zzr) at (1941,2806) {Zuruzuru \fF{} Magazayazaya 社};
  \node[eqs] (e18) at (1988,2826) {$\|$};
  \node[nm] (hoa) at (1941,2847) {Hoara (潘再發) \mM{} 當年 46 歳, 乙種巡査};
  \draw[ln] (zz3.east) -- ++(6,0) |- (1902,2878) |- (zzr.west);

  \node[nmb] (rkk) at (321,2971) {Ruraden 家};
  \node[nm] (xr) at (324,3014) {x};
  \node[nm] (ter) at (485,3014) {Terisan-Ruraden \mM};
  \draw[dsh] (xr.east) -- (ter.west);
  \node[eqs] (e19) at (558,3033) {$\|$};
  \node[nm] (dul) at (508,3054) {Dulsai \fF};
  \node[nm] (tat) at (738,3037) {Tatoran-Ruraden \mM};
  \draw[ln] (e19.east) -- (tat.west);
  \node[nm] (pkr) at (1009,3039) {Pukirigañ-Ruraden \mM};
  \draw[ln] (tat.east) -- (pkr.west);
  \node[eqs] (e20) at (1106,3061) {$\|$};
  \node[nm] (pau2) at (1056,3082) {Paulus \fF};
  \node[nm] (ggr) at (1291,3065) {Girigirao-Ruraden \mM};
  \draw[ln] (e20.east) -- (ggr.west);
  \node[eqs] (e21) at (1390,3084) {$\|$};
  \node[nm] (pin) at (1338,3104) {Pinarai \fF};
  \node[nm] (dag) at (1567,3084) {Dagal-Ruraden \mM};
  \draw[ln] (e21.east) -- (dag.west);

  \node[nmb] (idk) at (309,3165) {移動經路};
  \node[nm] (mg1) at (424,3165) {Rarukruk};
  \node[nm] (mg2) at (558,3165) {Mateatsan};
  \node[nm] (mg3) at (703,3165) {Variu};
  \node[nm] (mg4) at (776,3165) {Dadel};
  \draw[ln] (mg1.east) -- (mg2.west);
  \draw[ln] (mg2.east) -- (mg3.west);
  \draw[ln] (mg3.east) -- (mg4.west);

  % page number and archive marks
  \node[font=\fontsize{9}{10}\selectfont, inner sep=2pt] (pno) at (1299,3380) {80};
  \draw[line width=0.7pt] (pno.west) -- ++(-105,0);
  \draw[line width=0.7pt] (pno.east) -- ++(105,0);
  \node[font=\fontsize{19}{20}\selectfont, text=black!45] (foot) at (1243,3598) {國家圖書館數位典藏};
  \node[font=\fontsize{60}{60}\selectfont, text=black!45, opacity=0.7] (wm1) at (1632,1918) {臺灣記憶};
  \node[font=\fontsize{16}{16}\selectfont\sffamily, text=black!45, opacity=0.7] (wm2) at (1805,2037) {Taiwan Memory};
\end{tikzpicture}
\end{document}
